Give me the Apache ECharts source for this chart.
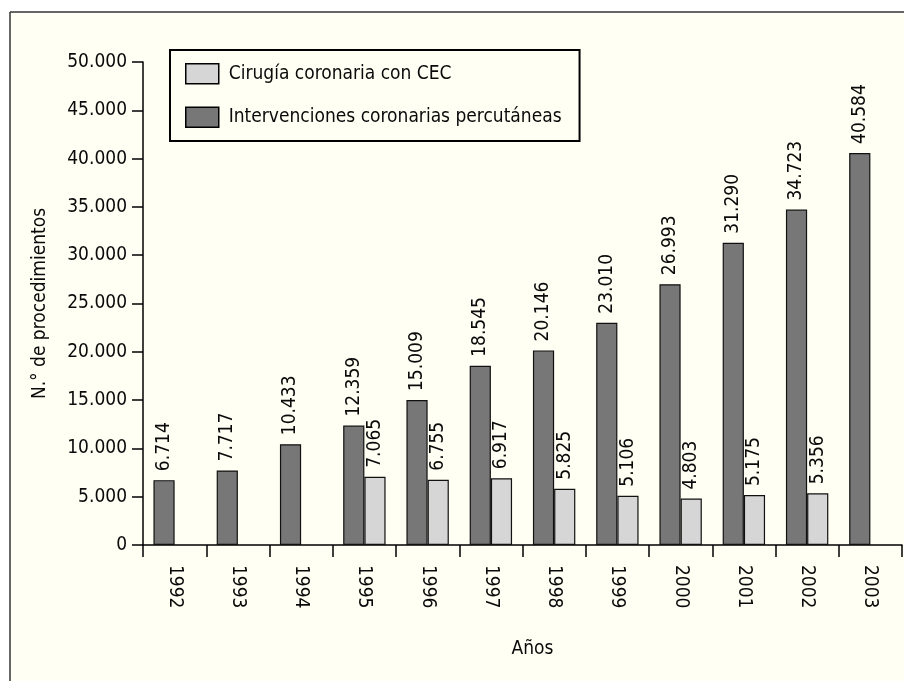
<!DOCTYPE html>
<html>
<head>
<meta charset="utf-8">
<script src="https://cdn.jsdelivr.net/npm/echarts@6/dist/echarts.min.js"></script>
<style>
html,body{margin:0;padding:0;background:#ffffff;}
#c{width:904px;height:682px;}
</style>
</head>
<body>
<div id="c"></div>
<script>
var years = ['1992','1993','1994','1995','1996','1997','1998','1999','2000','2001','2002','2003'];
var icp = [6714, 7717, 10433, 12359, 15009, 18545, 20146, 23010, 26993, 31290, 34723, 40584];
var cec = [null, null, null, 7065, 6755, 6917, 5825, 5106, 4803, 5175, 5356, null];
var seriesNames = ['Cirugía coronaria con CEC', 'Intervenciones coronarias percutáneas'];
var yAxisTitle = 'N.° de procedimientos';
var xAxisTitle = 'Años';

var FONT = '"Liberation Sans Narrow", "DejaVu Sans Condensed", "Roboto", sans-serif';
var FS = 19;
function fmt(v){
  return String(v).replace(/\B(?=(\d{3})+(?!\d))/g, '.');
}
var chart = echarts.init(document.getElementById('c'));
var labelCfg = {
  show: true, position: 'top', rotate: 90, align: 'left', verticalAlign: 'middle',
  distance: 9, color: '#0a0a0a', fontSize: FS, fontFamily: FONT,
  formatter: function(p){ return p.value == null ? '' : fmt(p.value); }
};
chart.setOption({
  backgroundColor: '#ffffff',
  animation: false,
  textStyle: {fontFamily: FONT},
  graphic: [
    {type: 'rect', z: -10, shape: {x: 10, y: 12, width: 900, height: 669}, style: {fill: '#fffff4', stroke: null}},
    {type: 'line', z: -9, shape: {x1: 10, y1: 12, x2: 904, y2: 12}, style: {stroke: '#333', lineWidth: 1.5}},
    {type: 'line', z: -9, shape: {x1: 10, y1: 12, x2: 10, y2: 681}, style: {stroke: '#333', lineWidth: 1.5}}
  ],
  grid: {left: 143, right: 2, top: 62, bottom: 137, containLabel: false},
  legend: {
    left: 170, top: 50, orient: 'vertical',
    data: seriesNames,
    icon: 'rect',
    itemWidth: 33, itemHeight: 20, itemGap: 22,
    padding: [13, 18, 13, 15],
    borderColor: '#000', borderWidth: 2, backgroundColor: '#fffff4',
    textStyle: {fontSize: FS, color: '#0a0a0a', fontFamily: FONT, padding: [0,0,0,5]},
    itemStyle: {borderColor: '#000', borderWidth: 1.5}
  },
  xAxis: {
    type: 'category', data: years,
    name: xAxisTitle, nameLocation: 'middle', nameGap: 95,
    nameTextStyle: {fontSize: FS, color: '#0a0a0a', fontFamily: FONT, padding: [0,0,0,20]},
    axisLine: {lineStyle: {color: '#000', width: 1.5}},
    axisTick: {show: true, length: 12, lineStyle: {color: '#000', width: 1.5}},
    axisLabel: {rotate: -90, fontSize: FS, color: '#0a0a0a', margin: 20, fontFamily: FONT}
  },
  yAxis: {
    type: 'value', min: 0, max: 50000, interval: 5000,
    name: yAxisTitle, nameLocation: 'middle', nameGap: 93, nameRotate: 90,
    nameTextStyle: {fontSize: FS, color: '#0a0a0a', fontFamily: FONT},
    axisLine: {show: true, lineStyle: {color: '#000', width: 1.5}},
    axisTick: {show: true, length: 11, lineStyle: {color: '#000', width: 1.5}},
    splitLine: {show: false},
    axisLabel: {fontSize: FS, color: '#0a0a0a', margin: 16, fontFamily: FONT, formatter: fmt}
  },
  series: [
    {
      name: seriesNames[1], type: 'bar', data: icp,
      barGap: '0%', barCategoryGap: '33%',
      itemStyle: {color: '#777777', borderColor: '#111', borderWidth: 1.2},
      label: labelCfg
    },
    {
      name: seriesNames[0], type: 'bar', data: cec,
      barGap: '0%', barCategoryGap: '33%',
      itemStyle: {color: '#d6d6d6', borderColor: '#111', borderWidth: 1.2},
      label: labelCfg
    }
  ]
});
</script>
</body>
</html>
